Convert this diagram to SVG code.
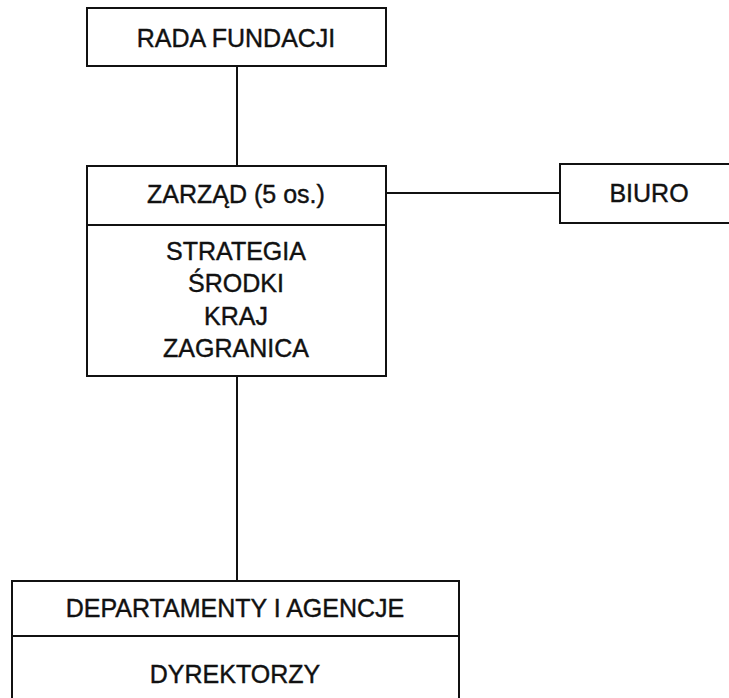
<svg xmlns="http://www.w3.org/2000/svg" width="729" height="698" viewBox="0 0 729 698">
  <style>
    .box { fill: #ffffff; stroke: #111111; stroke-width: 2; }
    .link { stroke: #111111; stroke-width: 2; fill: none; }
    .label { font-family: "Liberation Sans", Arial, sans-serif; font-size: 25px; fill: #111111; stroke: #111111; stroke-width: 0.4; text-anchor: middle; }
  </style>
  <rect width="729" height="698" fill="#ffffff"/>

  <!-- connectors -->
  <g id="connectors">
    <line class="link" x1="237" y1="66" x2="237" y2="166"/>
    <line class="link" x1="386" y1="193" x2="560" y2="193"/>
    <line class="link" x1="237" y1="376" x2="237" y2="581"/>
  </g>

  <!-- supervisory board -->
  <g id="rada">
    <rect class="box" x="87" y="8" width="299" height="58"/>
    <text class="label" x="236" y="47">RADA FUNDACJI</text>
  </g>

  <!-- management board with its areas -->
  <g id="zarzad">
    <rect class="box" x="87" y="166" width="299" height="210"/>
    <line class="link" x1="87" y1="225" x2="386" y2="225"/>
    <text class="label" x="236" y="203">ZARZĄD (5 os.)</text>
    <text class="label" x="236" y="260">STRATEGIA</text>
    <text class="label" x="236" y="292">ŚRODKI</text>
    <text class="label" x="236" y="325">KRAJ</text>
    <text class="label" x="236" y="357">ZAGRANICA</text>
  </g>

  <!-- office -->
  <g id="biuro">
    <rect class="box" x="560" y="164" width="180" height="59"/>
    <text class="label" x="649" y="202">BIURO</text>
  </g>

  <!-- departments -->
  <g id="departamenty">
    <rect class="box" x="12" y="581" width="447" height="130"/>
    <line class="link" x1="12" y1="636" x2="459" y2="636"/>
    <text class="label" x="235" y="617">DEPARTAMENTY I AGENCJE</text>
    <text class="label" x="235" y="683">DYREKTORZY</text>
  </g>
</svg>
